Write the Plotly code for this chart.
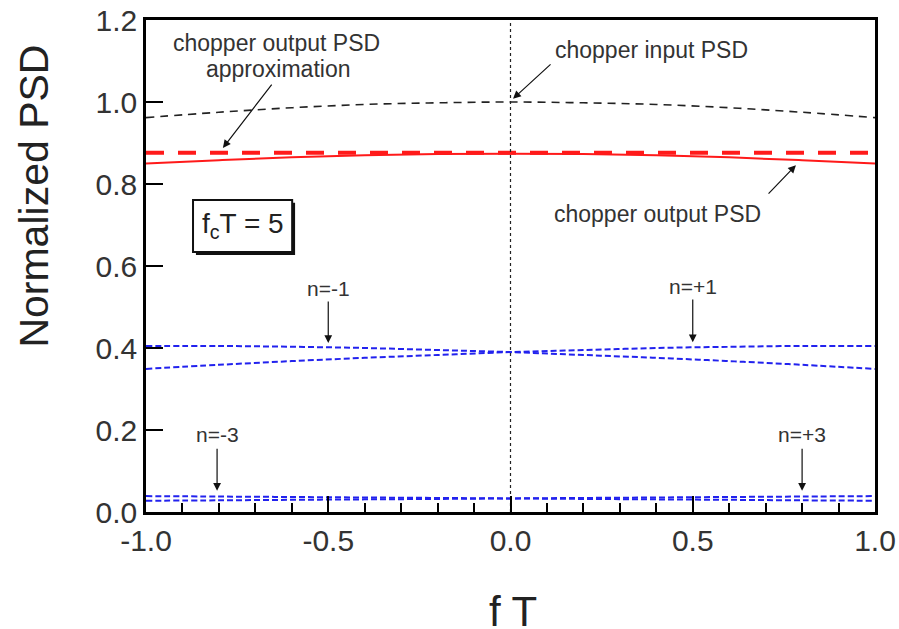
import plotly.graph_objects as go

# ---- data ----
fT = [-1.0, -0.8, -0.6, -0.4, -0.2, 0.0, 0.2, 0.4, 0.6, 0.8, 1.0]
input_psd = [0.962, 0.975, 0.986, 0.994, 0.998, 1.000, 0.998, 0.994, 0.986, 0.975, 0.962]
output_psd = [0.850, 0.858, 0.865, 0.870, 0.873, 0.874, 0.873, 0.870, 0.865, 0.858, 0.850]
output_approx = [0.876] * len(fT)
n_plus1 = [0.349, 0.359, 0.368, 0.376, 0.383, 0.390, 0.395, 0.400, 0.403, 0.405, 0.405]
n_minus1 = [0.405, 0.405, 0.403, 0.400, 0.395, 0.390, 0.383, 0.376, 0.368, 0.359, 0.349]
n_plus3 = [0.0275, 0.0285, 0.0297, 0.0308, 0.0319, 0.0331, 0.0343, 0.0354, 0.0366, 0.0377, 0.0388]
n_minus3 = [0.0388, 0.0377, 0.0366, 0.0354, 0.0343, 0.0331, 0.0319, 0.0308, 0.0297, 0.0285, 0.0275]
y_ticks = [0.0, 0.2, 0.4, 0.6, 0.8, 1.0, 1.2]
y_ticktext = ["0.0", "0.2", "0.4", "0.6", "0.8", "1.0", "1.2"]
x_ticks = [-1.0, -0.5, 0.0, 0.5, 1.0]
x_ticktext = ["-1.0", "-0.5", "0.0", "0.5", "1.0"]

FONT = "Liberation Sans, Arial, Helvetica, sans-serif"

fig = go.Figure()

blue = "#2222ee"
for ys in (n_plus1, n_minus1, n_plus3, n_minus3):
    fig.add_trace(go.Scatter(x=fT, y=ys, mode="lines",
                             line=dict(color=blue, width=2, dash="6px,3px", shape="spline")))

fig.add_trace(go.Scatter(x=fT, y=input_psd, mode="lines",
                         line=dict(color="#222222", width=1.6, dash="8px,6px", shape="spline")))
fig.add_trace(go.Scatter(x=fT, y=output_psd, mode="lines",
                         line=dict(color="#ff1a1a", width=2, shape="spline")))
fig.add_trace(go.Scatter(x=fT, y=output_approx, mode="lines",
                         line=dict(color="#ff1a1a", width=4, dash="18px,14px")))

# vertical dotted line at fT = 0
fig.add_trace(go.Scatter(x=[0, 0], y=[y_ticks[0], y_ticks[-1]], mode="lines",
                         line=dict(color="#222222", width=1.2, dash="dot")))

big = dict(family=FONT, size=23, color="#333333")
small = dict(family=FONT, size=21, color="#333333")

def label(x, y, text, font):
    fig.add_annotation(x=x, y=y, text=text, showarrow=False, font=font,
                       xref="x", yref="y", xanchor="center", yanchor="middle")

def arrow(x0, y0, x1, y1):
    fig.add_annotation(x=x1, y=y1, ax=x0, ay=y0, axref="x", ayref="y",
                       xref="x", yref="y", text="", showarrow=True,
                       arrowhead=2, arrowsize=1.3, arrowwidth=1.2, arrowcolor="#111111")

label(-0.642, 1.143, "chopper output PSD", big)
label(-0.639, 1.080, "approximation", big)
arrow(-0.652, 1.046, -0.789, 0.888)
label(0.386, 1.127, "chopper input PSD", big)
arrow(0.114, 1.095, 0.007, 1.008)
label(0.403, 0.727, "chopper output PSD", big)
arrow(0.704, 0.773, 0.783, 0.846)

label(-0.5, 0.546, "n=-1", small)
arrow(-0.5, 0.517, -0.5, 0.412)
label(0.5, 0.549, "n=+1", small)
arrow(0.5, 0.522, 0.5, 0.414)
label(-0.805, 0.188, "n=-3", small)
arrow(-0.805, 0.158, -0.805, 0.052)
label(0.80, 0.188, "n=+3", small)
arrow(0.80, 0.158, 0.80, 0.052)

# f_cT = 5 box with drop shadow
fig.add_shape(type="rect", x0=-0.863, x1=-0.591, y0=0.627, y1=0.754,
              xref="x", yref="y", line=dict(width=0), fillcolor="#111111")
fig.add_shape(type="rect", x0=-0.871, x1=-0.599, y0=0.634, y1=0.761,
              xref="x", yref="y", line=dict(color="#111111", width=2), fillcolor="white")
fig.add_annotation(x=-0.735, y=0.699, xref="x", yref="y",
                   text="f<sub>c</sub>T = 5", showarrow=False,
                   xanchor="center", yanchor="middle",
                   font=dict(family=FONT, size=28, color="#222222"))

# axis titles
fig.add_annotation(x=-0.153, y=0.642, xref="paper", yref="paper",
                   text="Normalized PSD", textangle=-90, showarrow=False,
                   xanchor="center", yanchor="middle",
                   font=dict(family=FONT, size=41, color="#222222"))
fig.add_annotation(x=0.503, y=-0.203, xref="paper", yref="paper",
                   text="f T", showarrow=False,
                   xanchor="center", yanchor="middle",
                   font=dict(family=FONT, size=42, color="#222222"))

axis_font = dict(family=FONT, size=30, color="#333333")

fig.update_layout(
    width=899, height=629,
    margin=dict(l=146, r=24, t=20, b=117, autoexpand=False),
    paper_bgcolor="white", plot_bgcolor="white",
    showlegend=False,
    xaxis=dict(range=[-1.0, 1.0], tickvals=x_ticks, ticktext=x_ticktext,
               ticks="inside", ticklen=16, tickwidth=2, tickcolor="black",
               minor=dict(dtick=0.1, ticks="inside", ticklen=9, tickwidth=2, tickcolor="black"),
               showline=True, linecolor="black", linewidth=2.5, mirror=True,
               showgrid=False, zeroline=False, tickfont=axis_font, automargin=False),
    yaxis=dict(range=[0.0, 1.2], tickvals=y_ticks, ticktext=y_ticktext,
               ticks="inside", ticklen=17, tickwidth=2, tickcolor="black",
               showline=True, linecolor="black", linewidth=2.5, mirror=True,
               showgrid=False, zeroline=False, tickfont=axis_font, automargin=False),
)

fig.write_html("out.html")
